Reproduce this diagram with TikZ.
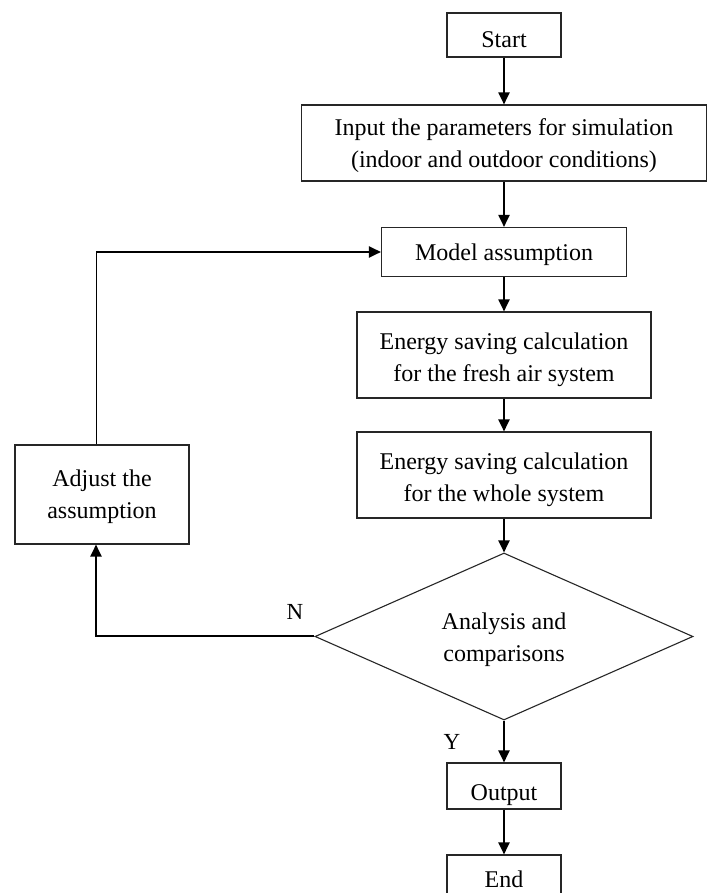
\documentclass[tikz,border=0pt]{standalone}
\usepackage{fontspec}
\setmainfont{Liberation Serif}
\usetikzlibrary{shapes.geometric,arrows.meta}
\begin{document}
\begin{tikzpicture}[x=1pt,y=1pt,
  box/.style={draw=black!85, line width=1.1pt, rectangle, inner sep=0pt},
  boxtext/.style={align=center, inner sep=0pt, font=\fontsize{24}{32}\selectfont},
  decision/.style={draw=black!85, line width=1.1pt, diamond, inner sep=0pt,
    minimum width=378pt, minimum height=167pt, aspect=2.26},
  flow/.style={line width=2pt, -{Triangle[length=12pt,width=11pt]}},
  thinflow/.style={line width=1pt},
  lbl/.style={font=\fontsize{23}{26}\selectfont}]
\useasboundingbox (0,0) rectangle (707,893);
\fill[white] (0,0) rectangle (707,893);

\node[box, minimum width=114pt, minimum height=44pt,
  label={[boxtext, yshift=-5pt]center:Start}] (start) at (504,858) {};
\node[box, minimum width=405pt, minimum height=76pt,
  label={[boxtext, yshift=-3pt]center:{Input the parameters for simulation\\(indoor and outdoor conditions)}}] (input) at (504,750) {};
\node[box, minimum width=245pt, minimum height=49pt,
  label={[boxtext, yshift=-3pt]center:Model assumption}] (model) at (504,641) {};
\node[box, minimum width=294pt, minimum height=86pt,
  label={[boxtext, yshift=-5pt]center:{Energy saving calculation\\for the fresh air system}}] (e1) at (504,538) {};
\node[box, minimum width=294pt, minimum height=86pt,
  label={[boxtext, yshift=-5pt]center:{Energy saving calculation\\for the whole system}}] (e2) at (504,418) {};
\node[decision,
  label={[boxtext, yshift=-3pt]center:{Analysis and\\comparisons}}] (dec) at (504,256.5) {};
\node[box, minimum width=174pt, minimum height=99pt,
  label={[boxtext, yshift=-2pt]center:{Adjust the\\assumption}}] (adj) at (102,398.5) {};
\node[box, minimum width=114pt, minimum height=46pt,
  label={[boxtext, yshift=-9pt]center:Output}] (out) at (504,107) {};
\node[box, minimum width=114pt, minimum height=46pt,
  label={[boxtext, yshift=-1pt]center:End}] (end) at (504,15) {};

\coordinate (adjb) at ([xshift=-6pt]adj.south);
\coordinate (adjt) at ([xshift=-6pt]adj.north);
\coordinate (corner) at (adjt |- model.west);

\draw[flow] (start) -- (input);
\draw[flow] (input) -- (model);
\draw[flow] (model) -- (e1);
\draw[flow] (e1) -- (e2);
\draw[flow] (e2) -- (dec);
\draw[flow] (dec) -- (out);
\draw[flow] (out) -- (end);
\draw[flow] (dec.west) -| (adjb);
\draw[thinflow] (adjt) -- (corner);
\draw[flow] (corner) -- (model.west);

\node[lbl] (n) at (295,281) {N};
\node[lbl] (y) at (452,151) {Y};
\end{tikzpicture}
\end{document}
